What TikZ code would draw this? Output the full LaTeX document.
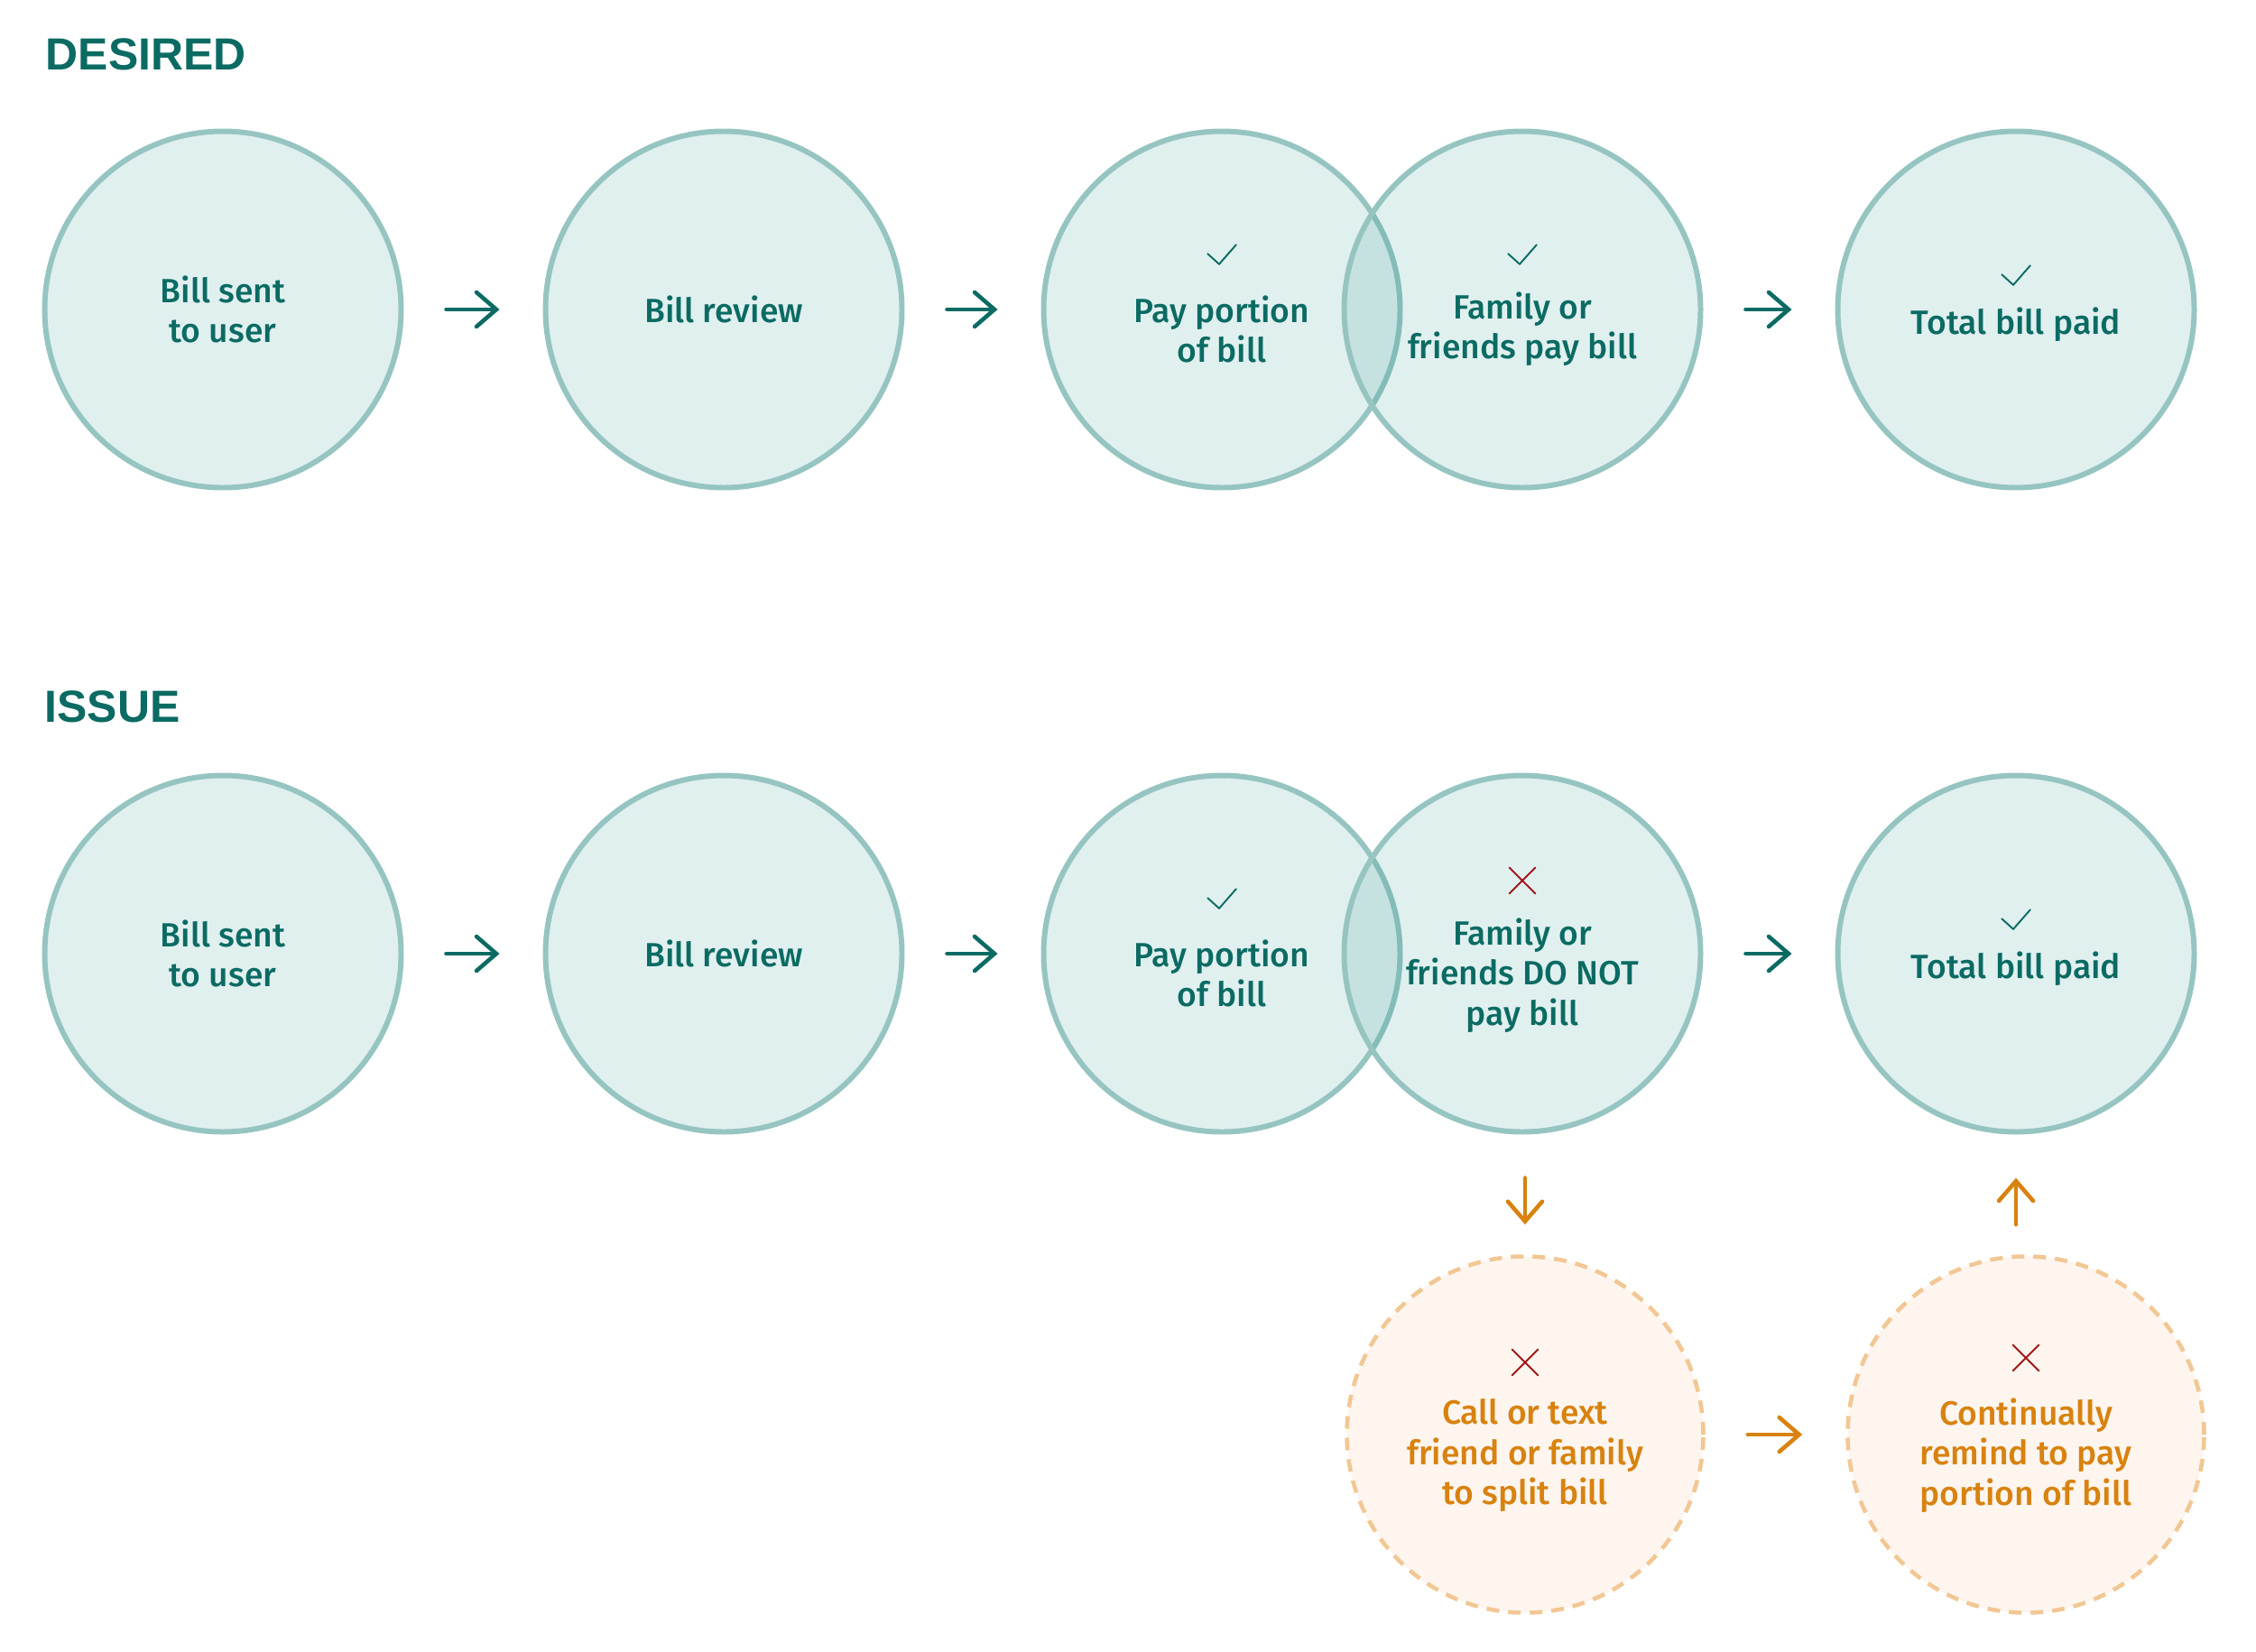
\documentclass[tikz,border=0pt]{standalone}
\usepackage{fontspec}
\usetikzlibrary{arrows.meta,calc}
\newfontfamily\lblfont{Fira Sans Medium}
\newfontfamily\ttlfont{Liberation Sans}
\definecolor{tealtxt}{HTML}{0B6B63}
\definecolor{circstroke}{HTML}{96C5C1}
\definecolor{tealbase}{HTML}{00807A}
\definecolor{orangetxt}{HTML}{D8820F}
\definecolor{orangefill}{HTML}{FDF5EE}
\definecolor{orangedash}{HTML}{F2C794}
\definecolor{redx}{HTML}{A3191B}
\tikzset{
  bub/.style={circle, draw=circstroke, line width=1.7pt, fill=tealbase, fill opacity=0.12, draw opacity=1, minimum size=3.95cm, inner sep=0pt},
  obub/.style={circle, draw=orangedash, line width=1.3pt, dash pattern=on 0.14cm off 0.10cm, fill=orangefill, minimum size=3.95cm, inner sep=0pt},
  lbl/.style={text=tealtxt, align=center, inner sep=0pt, font=\lblfont\fontsize{10.6pt}{12.6pt}\selectfont},
  olbl/.style={lbl, text=orangetxt},
  ttl/.style={text=tealtxt, inner sep=0pt, anchor=base west, font=\ttlfont\bfseries\fontsize{14.2pt}{16pt}\selectfont},
  arr/.style={draw=tealtxt, line width=1.3pt, line cap=round, -{Straight Barb[length=0.22cm, width=0.38cm, line cap=round]}, shorten <=0.47cm, shorten >=0.48cm},
  oarr/.style={arr, draw=orangetxt},
  chk/.style={draw=tealtxt, line width=0.55pt, line cap=round, line join=round},
  xmk/.style={draw=redx, line width=0.55pt, line cap=round},
}
\newcommand{\chkmark}[2]{\draw[chk] ($(#1)+(-0.158,0.008)+(0,#2)$) -- ++(0.128,-0.116) -- ++(0.188,0.215);}
\newcommand{\xmark}[2]{\draw[xmk] ($(#1)+(-0.145,-0.145)+(0,#2)$) -- ++(0.29,0.29); \draw[xmk] ($(#1)+(-0.145,0.145)+(0,#2)$) -- ++(0.29,-0.29);}
\begin{document}
\begin{tikzpicture}
\useasboundingbox (0,0) rectangle (25,-18.3);
% titles
\node[ttl] (tdes) at (0.50,-0.77) {DESIRED};
\node[ttl] (tiss) at (0.49,-8.00) {ISSUE};
% desired row
\node[bub] (d1) at (2.47,-3.43) {};
\node[bub] (d2) at (8.02,-3.43) {};
\node[bub] (d3) at (13.54,-3.43) {};
\node[bub] (d4) at (16.87,-3.43) {};
\node[bub] (d5) at (22.34,-3.43) {};
% issue row
\node[bub] (i1) at (2.47,-10.57) {};
\node[bub] (i2) at (8.02,-10.57) {};
\node[bub] (i3) at (13.54,-10.57) {};
\node[bub] (i4) at (16.87,-10.57) {};
\node[bub] (i5) at (22.34,-10.57) {};
% orange
\node[obub] (o1) at (16.90,-15.90) {};
\node[obub] (o2) at (22.45,-15.90) {};
% labels desired
\node[lbl] (ld1) at (d1) {Bill sent\\to user};
\node[lbl] (ld2) at (d2) {Bill review};
\node[lbl] (ld3) at ($(d3)+(0,-0.22)$) {Pay portion\\of bill};
\node[lbl] (ld4) at ($(d4)+(0,-0.22)$) {Family or\\friends pay bill};
\node[lbl] (ld5) at ($(d5)+(0,-0.17)$) {Total bill paid};
% labels issue
\node[lbl] (li1) at (i1) {Bill sent\\to user};
\node[lbl] (li2) at (i2) {Bill review};
\node[lbl] (li3) at ($(i3)+(0,-0.22)$) {Pay portion\\of bill};
\node[lbl] (li4) at ($(i4)+(0,-0.24)$) {Family or\\friends DO NOT\\pay bill};
\node[lbl] (li5) at ($(i5)+(0,-0.17)$) {Total bill paid};
\node[olbl] (lo1) at ($(o1)+(0,-0.23)$) {Call or text\\friend or family\\to split bill};
\node[olbl] (lo2) at ($(o2)+(0,-0.23)$) {Continually\\remind to pay\\portion of bill};
% marks
\chkmark{d3}{0.61}
\chkmark{d4}{0.61}
\chkmark{d5}{0.38}
\chkmark{i3}{0.61}
\chkmark{i5}{0.38}
\xmark{i4}{0.81}
\xmark{o1}{0.80}
\xmark{o2}{0.85}
% arrows
\draw[arr] (d1) -- (d2);
\draw[arr] (d2) -- (d3);
\draw[arr] (d4) -- (d5);
\draw[arr] (i1) -- (i2);
\draw[arr] (i2) -- (i3);
\draw[arr] (i4) -- (i5);
\draw[oarr, shorten <=0.48cm, shorten >=0.33cm] (i4.south -| o1) -- (o1.north);
\draw[oarr, shorten <=0.33cm, shorten >=0.48cm] (o2.north -| i5) -- (i5.south);
\draw[oarr] (o1) -- (o2);
\end{tikzpicture}
\end{document}
